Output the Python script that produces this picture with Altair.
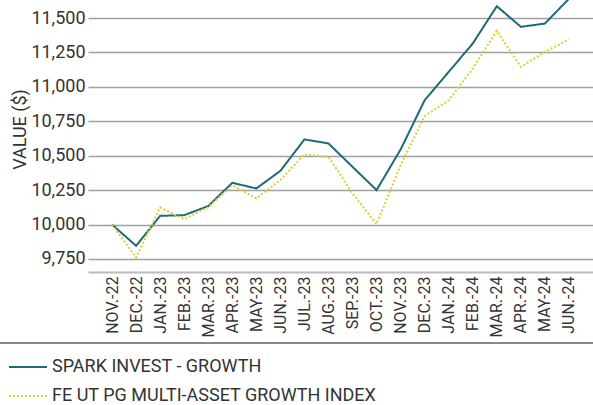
import altair as alt
import pandas as pd

months = ["NOV.-22", "DEC.-22", "JAN.-23", "FEB.-23", "MAR.-23", "APR.-23", "MAY-23",
          "JUN.-23", "JUL.-23", "AUG.-23", "SEP.-23", "OCT.-23", "NOV.-23", "DEC.-23",
          "JAN.-24", "FEB.-24", "MAR.-24", "APR.-24", "MAY-24", "JUN.-24"]
spark = [10000, 9845, 10063, 10068, 10134, 10303, 10262, 10390, 10618, 10589,
         10419, 10250, 10545, 10903, 11109, 11315, 11586, 11436, 11460, 11640]
index = [10000, 9761, 10124, 10039, 10125, 10286, 10190, 10322, 10509, 10492,
         10226, 10003, 10430, 10787, 10903, 11133, 11407, 11145, 11254, 11344]
series_names = ["SPARK INVEST - GROWTH", "FE UT PG MULTI-ASSET GROWTH INDEX"]
series_colors = ["#1c6b76", "#d6d136"]
y_ticks = [9750, 10000, 10250, 10500, 10750, 11000, 11250, 11500]

rows = []
for m, s, i in zip(months, spark, index):
    rows.append({"month": m, "series": series_names[0], "value": s})
    rows.append({"month": m, "series": series_names[1], "value": i})
df = pd.DataFrame(rows)

legend = alt.Legend(
    orient="none", legendX=-80, legendY=347, title=None,
    labelFont="Roboto", labelFontSize=18, labelColor="#333333", labelLimit=600,
    symbolType="stroke", symbolSize=1444, symbolStrokeWidth=2,
    rowPadding=0, labelOffset=4,
)

lines = alt.Chart(df).mark_line(strokeWidth=2, clip=True).encode(
    x=alt.X("month:N", sort=months, title=None,
            scale=alt.Scale(type="point", padding=1),
            axis=alt.Axis(labelAngle=-90, labelFont="Roboto", labelFontSize=16,
                          labelColor="#333333", ticks=False, grid=False,
                          domainColor="#bbbbbb", domainWidth=2, labelPadding=4)),
    y=alt.Y("value:Q", title="VALUE ($)",
            scale=alt.Scale(domain=[9655, 11631], nice=False, zero=False),
            axis=alt.Axis(values=y_ticks, format=",.0f", labelFont="Roboto",
                          labelFontSize=18, labelColor="#333333", ticks=False,
                          domain=False, labelPadding=3, gridColor="#a0a0a0",
                          gridWidth=1.5, titleFont="Roboto", titleFontSize=18,
                          titleFontWeight="normal", titleColor="#333333",
                          titleX=-63, titleY=129, titleAlign="center",
                          titleBaseline="alphabetic")),
    color=alt.Color("series:N", sort=series_names,
                    scale=alt.Scale(domain=series_names, range=series_colors),
                    legend=legend),
    strokeDash=alt.StrokeDash("series:N", sort=series_names,
                              scale=alt.Scale(domain=series_names, range=[[1, 0], [2, 2]]),
                              legend=legend),
    order=alt.Order("series:N"),
)

sep = alt.Chart(df).mark_rule(color="#888888", strokeWidth=2, clip=False).encode(
    x=alt.value(-88), x2=alt.value(505), y=alt.value(343)
)

chart = alt.layer(lines, sep).properties(
    width=505, height=272,
    padding={"left": 88, "top": 0, "right": 0, "bottom": 133},
    autosize=alt.AutoSizeParams(type="none"),
).configure_view(stroke=None)

chart.save("out.html", embed_options={"renderer": "svg", "actions": False})
